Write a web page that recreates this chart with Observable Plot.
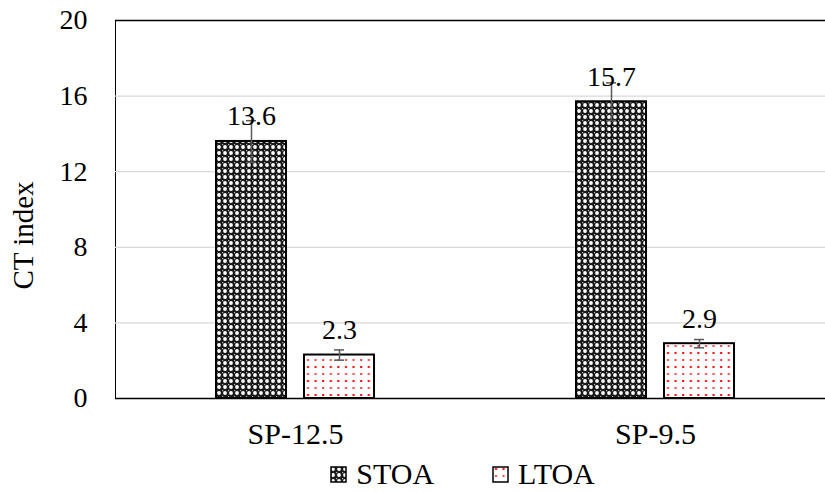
<!DOCTYPE html>
<html>
<head>
<meta charset="utf-8">
<script src="https://cdn.jsdelivr.net/npm/d3@7"></script>
<script src="https://cdn.jsdelivr.net/npm/@observablehq/plot@0.6"></script>
<style>
  body { margin: 0; background: #fff; font-family: "Liberation Serif", serif; }
  #legend { display: flex; justify-content: center; align-items: center; padding-left: 100px; width: 725px; height: 40px; font-size: 30px; color: #000; font-family: "Liberation Serif", serif; }
  .item { display: flex; align-items: center; }
  .item + .item { margin-left: 58px; }
  .item svg { margin-right: 9px; }
</style>
</head>
<body>
<div id="chart"></div>
<div id="legend"></div>
<script>
const categories = ["SP-12.5", "SP-9.5"];
const series = ["STOA", "LTOA"];
const stoaValues = [13.6, 15.7];
const stoaErrors = [1.1, 1.0];
const ltoaValues = [2.3, 2.9];
const ltoaErrors = [0.27, 0.22];
const yTicks = [0, 4, 8, 12, 16, 20];
const yLabel = "CT index";

const rows = [];
categories.forEach((c, i) => {
  rows.push({category: c, series: "STOA", value: stoaValues[i], err: stoaErrors[i]});
  rows.push({category: c, series: "LTOA", value: ltoaValues[i], err: ltoaErrors[i]});
});
const fills = {STOA: "url(#stoa)", LTOA: "url(#ltoa)"};
const FONT = '"Liberation Serif", serif';

const chart = Plot.plot({
  width: 825,
  height: 454,
  marginLeft: 115,
  marginRight: -10,
  marginTop: 20,
  marginBottom: 56,
  style: {fontFamily: FONT, fontSize: "28px", color: "#000", background: "#fff"},
  fx: {domain: categories, padding: 0, label: null, axis: null},
  x: {domain: series, paddingInner: 0.21, paddingOuter: 1.14, axis: null},
  y: {domain: [0, 20], ticks: yTicks, tickSize: 0, tickPadding: 28, label: null, line: true},
  marks: [
    Plot.axisFx({anchor: "bottom", tickSize: 0, tickPadding: 24, label: null, fontSize: 30}),
    Plot.gridY(yTicks.filter(t => t > 0 && t < 20), {stroke: "#d9d9d9", strokeOpacity: 1, strokeWidth: 1.2}),
    Plot.ruleY([20], {stroke: "#000", strokeWidth: 1.5}),
    ...series.map(s => Plot.barY(rows.filter(d => d.series === s), {
      fx: "category", x: "series", y: "value", fill: fills[s], stroke: "#000", strokeWidth: 2
    })),
    Plot.ruleY([0], {stroke: "#000", strokeWidth: 1.5}),
    Plot.ruleX(rows, {fx: "category", x: "series", y1: d => d.value - d.err, y2: d => d.value + d.err, stroke: "#595959", strokeWidth: 1.5}),
    Plot.tickY(rows, {fx: "category", x: "series", y: d => d.value + d.err, stroke: "#595959", strokeWidth: 1.5, insetLeft: 30, insetRight: 30}),
    Plot.tickY(rows, {fx: "category", x: "series", y: d => d.value - d.err, stroke: "#595959", strokeWidth: 1.5, insetLeft: 30, insetRight: 30}),
    Plot.text(rows, {fx: "category", x: "series", y: "value", text: d => d.value.toFixed(1), lineAnchor: "bottom", dy: -16, fontSize: 28, fontFamily: FONT, fill: "#000"}),
    Plot.text([yLabel], {fx: [categories[0]], frameAnchor: "left", rotate: -90, dx: -92, dy: 26, fontSize: 29, fontFamily: FONT, fill: "#000", textAnchor: "middle"})
  ]
});

// patterns
const defs = d3.select(chart).insert("defs", ":first-child");
const p1 = defs.append("pattern").attr("id", "stoa").attr("patternUnits", "userSpaceOnUse").attr("width", 6).attr("height", 6);
p1.append("rect").attr("width", 6).attr("height", 6).attr("fill", "#1a1a1a");
p1.append("circle").attr("cx", 3).attr("cy", 3).attr("r", 1.9).attr("fill", "#fff");
p1.append("rect").attr("x", 0).attr("y", 0).attr("width", 1.2).attr("height", 1.2).attr("fill", "#aaa");
const p2 = defs.append("pattern").attr("id", "ltoa").attr("patternUnits", "userSpaceOnUse").attr("width", 7.6).attr("height", 14);
p2.append("rect").attr("width", 7.6).attr("height", 14).attr("fill", "#fff");
p2.append("rect").attr("x", 3).attr("y", 2).attr("width", 2).attr("height", 2).attr("fill", "#ff0000");
p2.append("rect").attr("x", 3).attr("y", 9).attr("width", 2).attr("height", 2).attr("fill", "#ff4040");

document.getElementById("chart").append(chart);

const legend = d3.select("#legend");
series.forEach(s => {
  const item = legend.append("div").attr("class", "item");
  const sw = item.append("svg").attr("width", 17).attr("height", 17);
  sw.append("rect").attr("x", 1).attr("y", 1).attr("width", 15).attr("height", 15)
    .attr("fill", fills[s]).attr("stroke", "#000").attr("stroke-width", 1.5);
  item.append("span").text(s);
});
</script>
</body>
</html>
